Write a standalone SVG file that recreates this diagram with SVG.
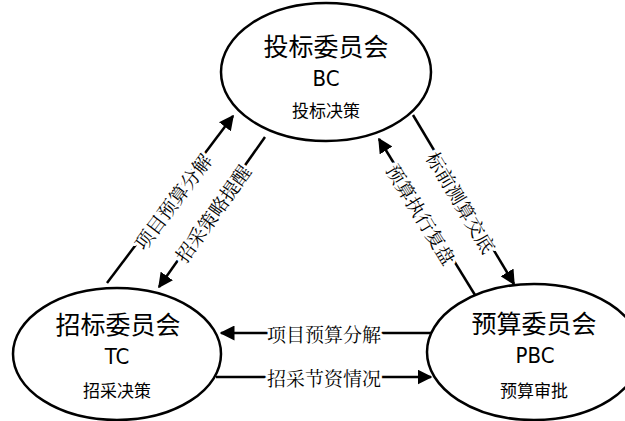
<svg xmlns="http://www.w3.org/2000/svg" width="625" height="421" viewBox="0 0 625 421">
<style>
.node{fill:#fff;stroke:#000;stroke-width:2.5}
.t1{font-family:"Noto Sans CJK SC","DejaVu Sans",sans-serif;font-size:25px;text-anchor:middle;fill:#000}
.t2{font-family:"DejaVu Sans Condensed","Liberation Sans Narrow","DejaVu Sans",sans-serif;font-stretch:condensed;font-size:22px;text-anchor:middle;fill:#000}
.t3{font-family:"Noto Sans CJK SC",sans-serif;font-size:17px;text-anchor:middle;fill:#000}
.edge{stroke:#000;stroke-width:2.5;fill:none;marker-end:url(#arr)}
.lbl{font-family:"Noto Serif CJK SC","Noto Sans CJK SC",serif;font-size:19px;text-anchor:middle;dominant-baseline:central;fill:#000;stroke:#fff;stroke-width:6;paint-order:stroke;stroke-linejoin:round}
</style>
<defs>
<marker id="arr" viewBox="0 0 10 10" refX="9" refY="5" markerWidth="6" markerHeight="6" orient="auto" markerUnits="strokeWidth">
<path d="M0,0 L10,5 L0,10 Z" fill="#000"/>
</marker>
</defs>
<rect width="625" height="421" fill="#fff"/>
<g id="connectors">
<line class="edge" x1="107" y1="283" x2="233" y2="116"/>
<line class="edge" x1="265" y1="137" x2="159" y2="287"/>
<line class="edge" x1="475" y1="295" x2="379" y2="139"/>
<line class="edge" x1="413" y1="115" x2="514" y2="284"/>
<line class="edge" x1="432" y1="333" x2="221" y2="333"/>
<line class="edge" x1="216" y1="377" x2="431" y2="377"/>
<text class="lbl" transform="translate(172,201) rotate(-53)">项目预算分解</text>
<text class="lbl" transform="translate(212,213) rotate(-54.5)">招采策略提醒</text>
<text class="lbl" transform="translate(422,214) rotate(58.5)">预算执行复盘</text>
<text class="lbl" transform="translate(462,202) rotate(59)">标前测算交底</text>
<text class="lbl" x="324" y="333">项目预算分解</text>
<text class="lbl" x="324" y="377">招采节资情况</text>
</g>
<g id="BC">
<ellipse class="node" cx="326" cy="72" rx="105" ry="69"/>
<text class="t1" x="326" y="56">投标委员会</text>
<text class="t2" x="326" y="86">BC</text>
<text class="t3" x="326" y="117">投标决策</text>
</g>
<g id="TC">
<ellipse class="node" cx="117" cy="354" rx="104" ry="66"/>
<text class="t1" x="118" y="334">招标委员会</text>
<text class="t2" x="117" y="364">TC</text>
<text class="t3" x="117" y="397">招采决策</text>
</g>
<g id="PBC">
<ellipse class="node" cx="534" cy="352" rx="107" ry="68"/>
<text class="t1" x="534" y="333">预算委员会</text>
<text class="t2" x="535" y="363">PBC</text>
<text class="t3" x="534" y="397">预算审批</text>
</g>
</svg>
